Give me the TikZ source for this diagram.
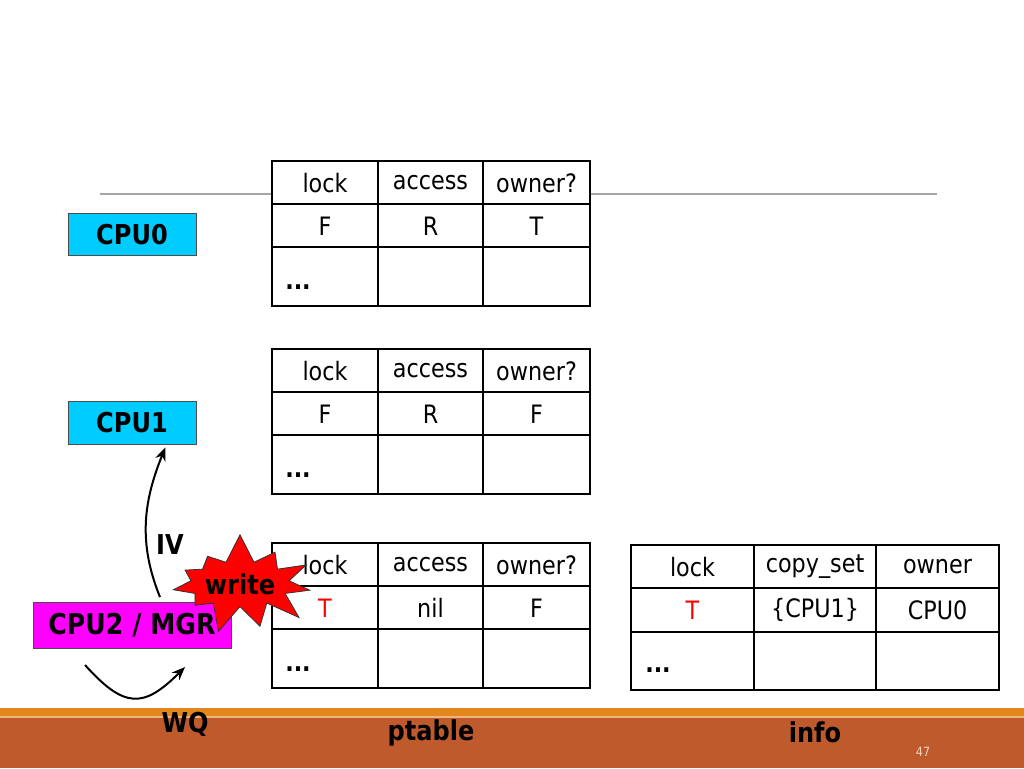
\documentclass[tikz,border=0pt]{standalone}
\usepackage{fontspec}
\setmainfont{DejaVu Sans}[FakeStretch=0.88]
\usetikzlibrary{positioning, arrows.meta, shapes.symbols}
\definecolor{cpublue}{HTML}{00CCFF}
\definecolor{mgrpink}{HTML}{FF00FF}
\definecolor{barorange}{HTML}{E2871C}
\definecolor{barbrown}{HTML}{BE5A2C}
\definecolor{pagenum}{HTML}{F5D3BC}
\tikzset{
x=0.75pt, y=-0.75pt, % one unit is one pixel of the slide
>={Stealth[length=10pt, width=8pt]},
cpu/.style={draw=black!70, line width=0.6pt, fill=cpublue, minimum width=96pt, minimum height=32pt, inner sep=0pt},
big/.style={font=\bfseries\fontsize{20.5}{24}\selectfont},
cell/.style={font=\fontsize{19}{22}\selectfont},
dots/.style={font=\bfseries\fontsize{19}{22}\selectfont},
frame/.style={draw=black, line width=2.2pt, fill=white},
grid/.style={draw=black, line width=1.1pt},
}
\begin{document}
\begin{tikzpicture}
\useasboundingbox (0,0) rectangle (1024,768);

% slide decoration
\draw[black!35, line width=0.8pt] (100,194) -- (937,194);
\fill[barorange] (0,708) rectangle (1024,716);
\fill[pagenum!60!barorange] (0,716) rectangle (1024,717.5);
\fill[barbrown] (0,717.5) rectangle (1024,768);

% ptables of the three cpus
\foreach \y/\lc/\va/\vb/\vc/\tn in {161/black/F/R/T/pa, 349/black/F/R/F/pb, 543/red/T/nil/F/pc} {
  \draw[frame] (272,\y) rectangle (590,\y+145);
  \draw[grid] (378,\y) -- (378,\y+145) (483,\y) -- (483,\y+145)
              (272,\y+43) -- (590,\y+43) (272,\y+86) -- (590,\y+86);
  \draw[black, line width=2.2pt] (272,\y) rectangle (590,\y+145);
  \node[cell] (\tn-h1) at (325,\y+22) {lock};
  \node[cell] (\tn-h2) at (430.5,\y+22) {access};
  \node[cell] (\tn-h3) at (536.5,\y+22) {owner?};
  \node[cell, text=\lc] (\tn-v1) at (325,\y+65) {\va};
  \node[cell] (\tn-v2) at (430.5,\y+65) {\vb};
  \node[cell] (\tn-v3) at (536.5,\y+65) {\vc};
  \node[dots] (\tn-more) at (298,\y+126) {...};
}

% info table of the manager
\draw[frame] (631,545) rectangle (999,690);
\draw[grid] (754,545) -- (754,690) (876,545) -- (876,690)
            (631,588) -- (999,588) (631,632) -- (999,632);
\draw[black, line width=2.2pt] (631,545) rectangle (999,690);
\node[cell] (in-h1) at (692.5,567) {lock};
\node[cell] (in-h2) at (815,567) {copy\_set};
\node[cell] (in-h3) at (937.5,567) {owner};
\node[cell, text=red] (in-v1) at (692.5,610) {T};
\node[cell] (in-v2) at (815,610) {\{CPU1\}};
\node[cell] (in-v3) at (937.5,610) {CPU0};
\node[dots] (in-more) at (658,670) {...};

% processors
\node[cpu, big] (cpu0) at (132,234.5) {CPU0};
\node[cpu, big] (cpu1) at (132,423) {CPU1};
\node[cpu, fill=mgrpink, minimum width=148.5pt, minimum height=34pt] (mgr) at (132,625.5) {};
\node[starburst, draw=black!80, line width=0.6pt, fill=red, starburst points=11, starburst point height=22pt,
      random starburst=7, inner sep=0pt, minimum width=104pt, minimum height=78pt, big] (wr) at (240,584) {write};
\node[big, font=\bfseries\fontsize{21.5}{24}\selectfont] (mgr-label) at (mgr.center) {CPU2 / MGR};

% messages
\coordinate (wq-start) at (85,665);
\coordinate (wq-end) at (185,667);
\draw[->, line width=1.5pt] ([xshift=21pt, yshift=4pt]mgr.north) to[out=112, in=-112] ([xshift=25pt, yshift=-2pt]cpu1.south);
\draw[->, line width=1.5pt] (wq-start) to[out=-48, in=-135, looseness=1.5] (wq-end);
\node[big] (iv) at (170,545) {IV};
\node[big] (wq) at (185,724) {WQ};
\node[big] (pt-title) at (431,733) {ptable};
\node[big] (in-title) at (815,732) {info};
\node[text=pagenum, font=\fontsize{9.5}{11}\selectfont] (num) at (923,752) {47};
\end{tikzpicture}
\end{document}
